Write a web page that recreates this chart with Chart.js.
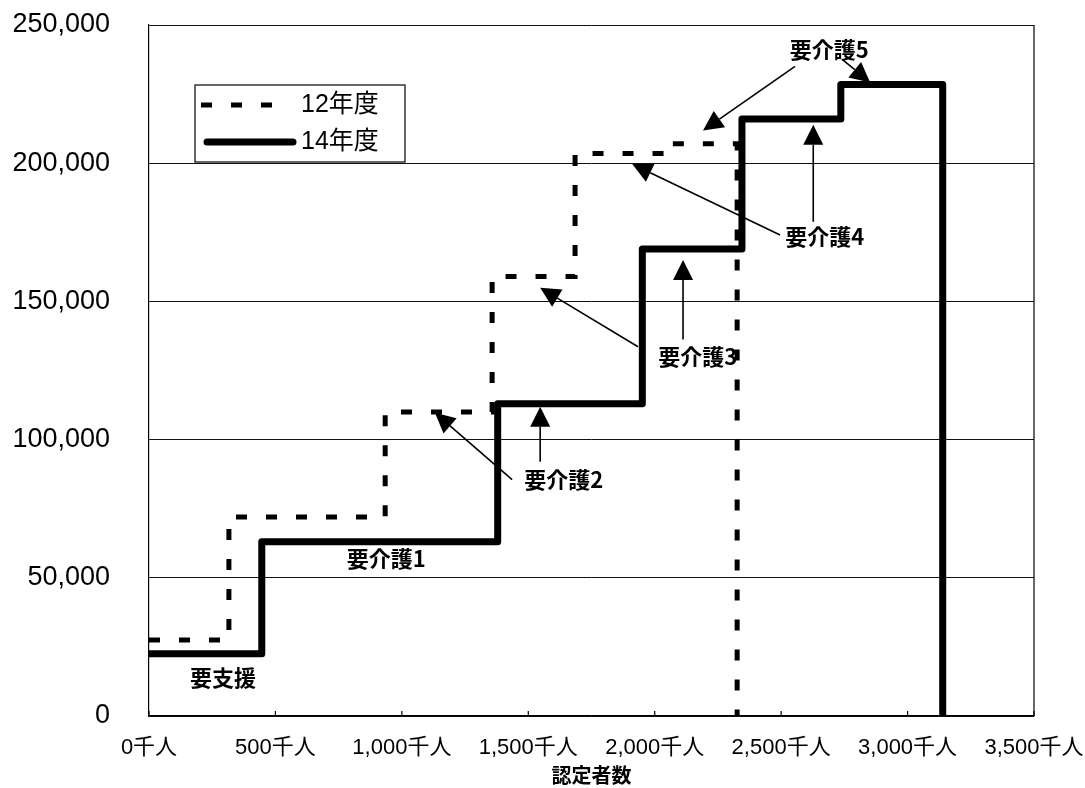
<!DOCTYPE html>
<html lang="ja">
<head>
<meta charset="utf-8">
<script src="https://cdn.jsdelivr.net/npm/chart.js@4.4.1/dist/chart.umd.min.js"></script>
<style>
html, body { margin: 0; padding: 0; background: #fff; }
#wrap { width: 1085px; height: 788px; }
</style>
</head>
<body>
<div id="wrap"><canvas id="chart"></canvas></div>
<script>
// 区分
const levels = ['要支援', '要介護1', '要介護2', '要介護3', '要介護4', '要介護5'];
// 各段の左端（累計認定者数・千人）と最後の右端
const edges12 = [0, 316, 934, 1357, 1685, 2041, 2326];
const edges14 = [0, 446, 1379, 1951, 2345, 2736, 3139];
// 各段の高さ
const values12 = [27500, 72000, 110000, 159000, 203500, 207000];
const values14 = [22500, 63000, 113000, 169000, 216000, 228500];

const xTickLabels = ['0千人', '500千人', '1,000千人', '1,500千人', '2,000千人', '2,500千人', '3,000千人', '3,500千人'];
const yTickLabels = ['0', '50,000', '100,000', '150,000', '200,000', '250,000'];

// 注記（データ座標）
const notes = [
    { text: '要支援', x: 293, y: 13900 },
    { text: '要介護1', x: 938, y: 57000 },
    { text: '要介護2', x: 1640, y: 85500 },
    { text: '要介護3', x: 2170, y: 130000 },
    { text: '要介護4', x: 2672, y: 173300 },
    { text: '要介護5', x: 2690, y: 241000 }
];
// 矢印 [始点x, 始点y, 先端x, 先端y]
const arrows = [
    [1436, 85500, 1131, 109700],
    [1547, 92000, 1547, 111900],
    [1934, 133600, 1547, 154900],
    [2112, 136200, 2112, 165000],
    [2496, 174000, 1911, 199700],
    [2627, 178800, 2627, 213900],
    [2555, 235000, 2191, 211800],
    [2745, 237300, 2852, 229200]
];

function stepPoints(edges, values) {
    const pts = values.map((v, i) => ({ x: edges[i], y: v }));
    pts.push({ x: edges[edges.length - 1], y: 0 });
    return pts;
}

const FONT = '"Liberation Sans", "Noto Sans CJK JP", sans-serif';

function arrow(ctx, x1, y1, x2, y2) {
    const ang = Math.atan2(y2 - y1, x2 - x1);
    const len = 20, half = 10;
    const bx = x2 - len * Math.cos(ang), by = y2 - len * Math.sin(ang);
    ctx.beginPath();
    ctx.moveTo(x1, y1);
    ctx.lineTo(bx, by);
    ctx.lineWidth = 1.6;
    ctx.stroke();
    ctx.beginPath();
    ctx.moveTo(x2, y2);
    ctx.lineTo(bx + half * Math.sin(ang), by - half * Math.cos(ang));
    ctx.lineTo(bx - half * Math.sin(ang), by + half * Math.cos(ang));
    ctx.closePath();
    ctx.fill();
}

const extras = {
    id: 'extras',
    afterDraw(chart) {
        const ctx = chart.ctx;
        const a = chart.chartArea;
        const xs = chart.scales.x, ys = chart.scales.y;
        ctx.save();
        ctx.strokeStyle = '#000';
        ctx.fillStyle = '#000';

        // 右枠
        ctx.lineWidth = 1.2;
        ctx.beginPath();
        ctx.moveTo(a.right, a.top);
        ctx.lineTo(a.right, a.bottom);
        ctx.stroke();

        // 内向き目盛り
        xs.ticks.forEach(t => {
            const px = xs.getPixelForValue(t.value);
            ctx.beginPath();
            ctx.moveTo(px, a.bottom);
            ctx.lineTo(px, a.bottom - 5);
            ctx.stroke();
        });

        // 注記
        ctx.font = 'bold 22px "Noto Sans CJK JP", sans-serif';
        ctx.textAlign = 'center';
        ctx.textBaseline = 'middle';
        notes.forEach(n => {
            ctx.fillText(n.text, xs.getPixelForValue(n.x), ys.getPixelForValue(n.y));
        });
        arrows.forEach(r => {
            arrow(ctx, xs.getPixelForValue(r[0]), ys.getPixelForValue(r[1]),
                xs.getPixelForValue(r[2]), ys.getPixelForValue(r[3]));
        });

        // 凡例
        const lx = a.left + 46, ly = a.top + 60;
        ctx.fillStyle = '#fff';
        ctx.fillRect(lx, ly, 210, 77);
        ctx.lineWidth = 1.2;
        ctx.strokeRect(lx, ly, 210, 77);
        ctx.fillStyle = '#000';
        const ds = chart.data.datasets;
        ctx.lineWidth = 5;
        ctx.setLineDash([11, 19]);
        ctx.beginPath();
        ctx.moveTo(lx + 6, ly + 20);
        ctx.lineTo(lx + 90, ly + 20);
        ctx.stroke();
        ctx.setLineDash([]);
        ctx.lineWidth = 7;
        ctx.lineCap = 'round';
        ctx.beginPath();
        ctx.moveTo(lx + 12, ly + 57);
        ctx.lineTo(lx + 98, ly + 57);
        ctx.stroke();
        ctx.font = '25px ' + FONT;
        ctx.textAlign = 'left';
        ctx.fillText(ds[0].label, lx + 106, ly + 20);
        ctx.fillText(ds[1].label, lx + 106, ly + 57);
        ctx.restore();
    }
};

new Chart(document.getElementById('chart'), {
    type: 'line',
    data: {
        datasets: [
            {
                label: '12年度',
                data: stepPoints(edges12, values12),
                stepped: 'before',
                borderColor: '#000',
                borderWidth: 5,
                borderDash: [11, 19],
                pointRadius: 0,
                fill: false,
                order: 1
            },
            {
                label: '14年度',
                data: stepPoints(edges14, values14),
                stepped: 'before',
                borderColor: '#000',
                borderWidth: 7,
                borderJoinStyle: 'round',
                pointRadius: 0,
                fill: false,
                order: 0
            }
        ]
    },
    plugins: [extras],
    options: {
        responsive: true,
        maintainAspectRatio: false,
        animation: false,
        layout: { padding: { left: 0, right: 51, top: 25, bottom: 0 } },
        plugins: {
            legend: { display: false },
            tooltip: { enabled: false }
        },
        scales: {
            x: {
                type: 'linear',
                min: 0,
                max: 3500,
                ticks: {
                    stepSize: 500,
                    padding: 19,
                    color: '#000',
                    maxRotation: 0,
                    font: { size: 22, family: FONT },
                    callback: (v, i) => xTickLabels[i]
                },
                grid: { display: false, drawTicks: false },
                border: { display: true, color: '#000', width: 1.2 },
                title: {
                    display: true,
                    text: '認定者数',
                    color: '#000',
                    font: { size: 20, weight: 'bold', family: FONT, lineHeight: 1 },
                    padding: { top: 0, bottom: 1 }
                },
                afterFit: s => {
                    s.height = 72;
                    s.paddingLeft = 0;
                    s.paddingRight = 0;
                }
            },
            y: {
                min: 0,
                max: 250000,
                ticks: {
                    stepSize: 50000,
                    padding: 39,
                    color: '#000',
                    font: { size: 27, family: FONT },
                    callback: (v, i) => yTickLabels[i]
                },
                grid: { color: '#111', lineWidth: 1, drawTicks: false },
                border: { display: true, color: '#000', width: 1.2 },
                afterFit: s => {
                    s.width = 149;
                    s.paddingTop = 0;
                    s.paddingBottom = 0;
                }
            }
        }
    }
});
</script>
</body>
</html>
